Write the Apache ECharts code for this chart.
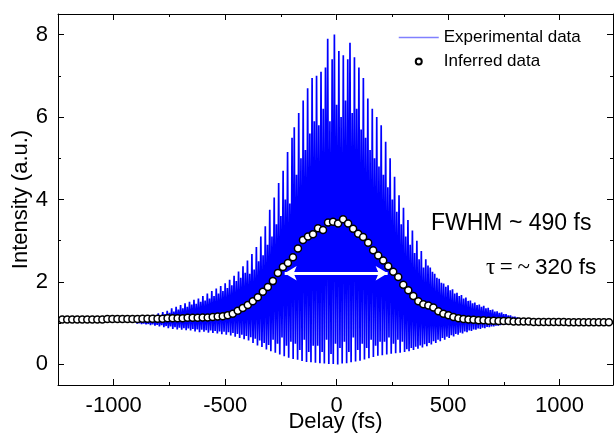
<!DOCTYPE html>
<html>
<head>
<meta charset="utf-8">
<script src="https://cdn.jsdelivr.net/npm/echarts@6/dist/echarts.min.js"></script>
<style>
  html, body { margin: 0; padding: 0; background: #fff; }
  #chart { width: 615px; height: 435px; }
</style>
</head>
<body>
<div id="chart"></div>
<script>
// 实验数据: 干涉条纹的峰值 (从 -900 fs 起, 每 10 fs 一个)
const expStart = -900;
const expStep = 10;
const expPeaks = [
  1.12, 1.10, 1.14, 1.12, 1.16, 1.13, 1.18, 1.15, 1.20, 1.17,
  1.24, 1.19, 1.27, 1.22, 1.30, 1.25, 1.36, 1.28, 1.40, 1.33,
  1.44, 1.36, 1.48, 1.40, 1.52, 1.45, 1.57, 1.47, 1.60, 1.52,
  1.66, 1.55, 1.72, 1.60, 1.78, 1.66, 1.84, 1.72, 1.90, 1.78,
  1.97, 1.85, 2.05, 1.92, 2.15, 2.02, 2.25, 2.10, 2.38, 2.22,
  2.52, 2.20, 2.68, 2.30, 2.85, 2.50, 3.10, 2.65, 3.35, 2.90,
  3.75, 3.10, 4.05, 3.40, 4.40, 3.60, 4.70, 4.00, 5.15, 3.90,
  5.50, 5.75, 4.60, 6.10, 5.00, 6.40, 5.20, 6.70, 5.60, 6.95,
  5.90, 7.00, 5.80, 7.10, 6.20, 7.20, 7.90, 5.90, 7.40, 8.00,
  6.30, 7.60, 6.00, 7.50, 6.40, 7.40, 7.80, 6.10, 7.45, 6.20,
  7.20, 5.70, 6.95, 5.50, 6.45, 5.20, 6.20, 5.00, 6.00, 4.80,
  5.80, 4.60, 5.40, 4.30, 5.00, 4.00, 4.55, 3.70, 4.10, 3.40,
  3.80, 3.10, 3.50, 2.90, 3.25, 2.70, 3.00, 2.55, 2.75, 2.35,
  2.55, 2.40, 2.35, 2.25, 2.20, 2.10, 2.08, 1.98, 1.96, 1.88,
  1.92, 1.80, 1.82, 1.72, 1.74, 1.66, 1.68, 1.60, 1.62, 1.54,
  1.55, 1.48, 1.50, 1.44, 1.45, 1.40, 1.42, 1.36, 1.37, 1.32,
  1.33, 1.28, 1.29, 1.25, 1.26, 1.22, 1.22, 1.19, 1.19, 1.16,
  1.16, 1.14, 1.13, 1.12, 1.11, 1.10, 1.09, 1.08, 1.07, 1.06,
  1.06
];
// 谷值 (从 -895 fs 起, 每 10 fs 一个)
const expTroughs = [
  0.99, 1.00, 0.98, 0.99, 0.97, 0.98, 0.95, 0.97, 0.94, 0.96,
  0.92, 0.95, 0.90, 0.93, 0.88, 0.92, 0.86, 0.90, 0.85, 0.89,
  0.84, 0.88, 0.83, 0.87, 0.82, 0.86, 0.80, 0.85, 0.78, 0.84,
  0.79, 0.83, 0.77, 0.82, 0.76, 0.81, 0.75, 0.80, 0.73, 0.79,
  0.72, 0.78, 0.70, 0.76, 0.67, 0.74, 0.64, 0.72, 0.61, 0.69,
  0.58, 0.66, 0.52, 0.62, 0.46, 0.58, 0.42, 0.52, 0.36, 0.47,
  0.32, 0.60, 0.28, 0.50, 0.24, 0.65, 0.20, 0.45, 0.16, 0.55,
  0.13, 0.50, 0.11, 0.35, 0.08, 0.60, 0.06, 0.30, 0.05, 0.45,
  0.04, 0.45, 0.03, 0.30, 0.02, 0.60, 0.01, 0.25, 0.01, 0.50,
  0.00, 0.40, 0.02, 0.55, 0.03, 0.30, 0.05, 0.65, 0.07, 0.35,
  0.09, 0.50, 0.12, 0.40, 0.15, 0.60, 0.18, 0.45, 0.21, 0.55,
  0.22, 0.55, 0.24, 0.65, 0.26, 0.50, 0.27, 0.60, 0.28, 0.55,
  0.30, 0.37, 0.32, 0.40, 0.35, 0.43, 0.38, 0.46, 0.41, 0.49,
  0.44, 0.52, 0.48, 0.56, 0.52, 0.60, 0.56, 0.64, 0.60, 0.67,
  0.64, 0.71, 0.68, 0.74, 0.72, 0.77, 0.75, 0.80, 0.78, 0.82,
  0.81, 0.85, 0.84, 0.87, 0.86, 0.89, 0.88, 0.91, 0.90, 0.92,
  0.92, 0.94, 0.94, 0.95, 0.96, 0.96, 0.97, 0.98, 0.98, 0.99,
  0.99, 1.00, 1.00, 1.01, 1.01, 1.01, 1.02, 1.02, 1.02, 1.03
];

// 推算数据 (圆点), 从 -1231 fs 起每 22.5 fs 一个
const inferStart = -1231;
const inferStep = 22.5;
const inferValues = [
  1.09, 1.09, 1.09, 1.09, 1.09, 1.09, 1.09, 1.09, 1.09, 1.10,
  1.10, 1.10, 1.10, 1.10, 1.10, 1.10, 1.11, 1.11, 1.11, 1.11,
  1.11, 1.12, 1.12, 1.12, 1.12, 1.13, 1.13, 1.13, 1.14, 1.14,
  1.15, 1.16, 1.17, 1.19, 1.23, 1.30, 1.37, 1.44, 1.53, 1.63,
  1.76, 1.88, 2.02, 2.22, 2.36, 2.46, 2.60, 2.81, 3.02, 3.10,
  3.16, 3.30, 3.26, 3.44, 3.46, 3.42, 3.52, 3.42, 3.29, 3.17,
  3.09, 2.95, 2.77, 2.64, 2.52, 2.38, 2.25, 2.12, 1.93, 1.80,
  1.66, 1.53, 1.46, 1.43, 1.38, 1.29, 1.23, 1.19, 1.15, 1.12,
  1.10, 1.09, 1.08, 1.07, 1.07, 1.06, 1.06, 1.05, 1.05, 1.05,
  1.04, 1.04, 1.04, 1.04, 1.03, 1.03, 1.03, 1.03, 1.03, 1.03,
  1.03, 1.02, 1.02, 1.02, 1.02, 1.02, 1.02, 1.02, 1.02, 1.02
];

// 刻度
const xMajor = [-1000, -500, 0, 500, 1000];
const xMinor = [-750, -250, 250, 750];
const yMajor = [0, 2, 4, 6, 8];
const yMinor = [1, 3, 5, 7];

// FWHM 白色双箭头: [起点, 终点, 高度]
const fwhmArrow = [-233, 229, 2.21];

const font = "'Liberation Sans', Arial, sans-serif";

// 峰谷交替组成实验曲线
const expData = [];
expPeaks.forEach(function (p, i) {
  const x = expStart + i * expStep;
  expData.push([x, p]);
  if (i < expTroughs.length) {
    expData.push([x + expStep / 2, expTroughs[i]]);
  }
});
const inferData = inferValues.map(function (v, i) {
  return [inferStart + i * inferStep, v];
});

function plain(v) {
  return String(v);
}

function xAxisOf(position, ticks, len, withLine, withLabel) {
  return {
    type: "value",
    position: position,
    min: -1250,
    max: 1240,
    axisLine: { show: withLine, onZero: false, lineStyle: { color: "#000", width: 1 } },
    axisTick: { show: true, inside: true, length: len, customValues: ticks, lineStyle: { color: "#000", width: 1 } },
    axisLabel: { show: withLabel, customValues: ticks, formatter: plain, fontSize: 22, fontFamily: font, color: "#000", margin: 10 },
    splitLine: { show: false },
  };
}
function yAxisOf(position, ticks, len, withLine, withLabel) {
  return {
    type: "value",
    position: position,
    min: -0.5,
    max: 8.5,
    axisLine: { show: withLine, onZero: false, lineStyle: { color: "#000", width: 1 } },
    axisTick: { show: true, inside: true, length: len, customValues: ticks, lineStyle: { color: "#000", width: 1 } },
    axisLabel: { show: withLabel, customValues: ticks, formatter: plain, fontSize: 22, fontFamily: font, color: "#000", margin: 10 },
    splitLine: { show: false },
  };
}

const xMain = xAxisOf("bottom", xMajor, 6, true, true);
xMain.name = "Delay (fs)";
xMain.nameLocation = "middle";
xMain.nameGap = 26;
xMain.nameMoveOverlap = false;
xMain.nameTextStyle = { fontSize: 22, fontFamily: font, color: "#000" };

const yMain = yAxisOf("left", yMajor, 6, true, true);
yMain.name = "Intensity (a.u.)";
yMain.nameLocation = "middle";
yMain.nameGap = 26;
yMain.nameMoveOverlap = false;
yMain.nameTextStyle = { fontSize: 22, fontFamily: font, color: "#000" };

const chart = echarts.init(document.getElementById("chart"));
chart.setOption({
  animation: false,
  backgroundColor: "#fff",
  grid: { left: 58, right: 2, top: 14, bottom: 50, outerBoundsMode: "none" },
  xAxis: [
    xMain,
    xAxisOf("bottom", xMinor, 3, false, false),
    xAxisOf("top", xMajor, 6, true, false),
    xAxisOf("top", xMinor, 3, false, false),
  ],
  yAxis: [
    yMain,
    yAxisOf("left", yMinor, 3, false, false),
    yAxisOf("right", yMajor, 6, true, false),
    yAxisOf("right", yMinor, 3, false, false),
  ],
  legend: {
    orient: "vertical",
    left: 393,
    top: 24,
    itemWidth: 40,
    itemHeight: 6,
    itemGap: 7,
    textStyle: { fontSize: 17, fontFamily: font, color: "#000", padding: [0, 0, 0, 0] },
    data: [
      {
        name: "Experimental data",
        lineStyle: { color: "#8080ff", width: 1.5, opacity: 1 },
        itemStyle: { color: "rgba(0,0,0,0)", borderWidth: 0 },
      },
      { name: "Inferred data" },
    ],
  },
  graphic: [
    {
      type: "text",
      left: 431,
      top: 212,
      style: { text: "FWHM ~ 490 fs", font: "23px " + font, fill: "#000" },
    },
    {
      type: "text",
      left: 486,
      top: 256,
      style: { text: "\u03c4\u2009=\u2009~", font: "23px 'Liberation Serif', serif", fill: "#000" },
    },
    {
      type: "text",
      left: 535,
      top: 256,
      style: { text: "320 fs", font: "22.5px " + font, fill: "#000" },
    },
  ],
  series: [
    {
      name: "Experimental data",
      type: "line",
      data: expData,
      showSymbol: false,
      symbol: "none",
      lineStyle: { color: "#0000ff", width: 1.7 },
      itemStyle: { color: "#0000ff" },
      z: 2,
    },
    {
      name: "Inferred data",
      type: "scatter",
      data: inferData,
      symbol: "circle",
      symbolSize: 7,
      itemStyle: { color: "#fff", borderColor: "#000", borderWidth: 1.5, opacity: 1 },
      z: 3,
      markLine: {
        silent: true,
        symbol: ["arrow", "arrow"],
        symbolSize: [11, 12],
        label: { show: false },
        lineStyle: { color: "#fff", width: 3, type: "solid", opacity: 1 },
        data: [[{ coord: [fwhmArrow[0], fwhmArrow[2]] }, { coord: [fwhmArrow[1], fwhmArrow[2]] }]],
      },
    },
  ],
});
</script>
</body>
</html>
